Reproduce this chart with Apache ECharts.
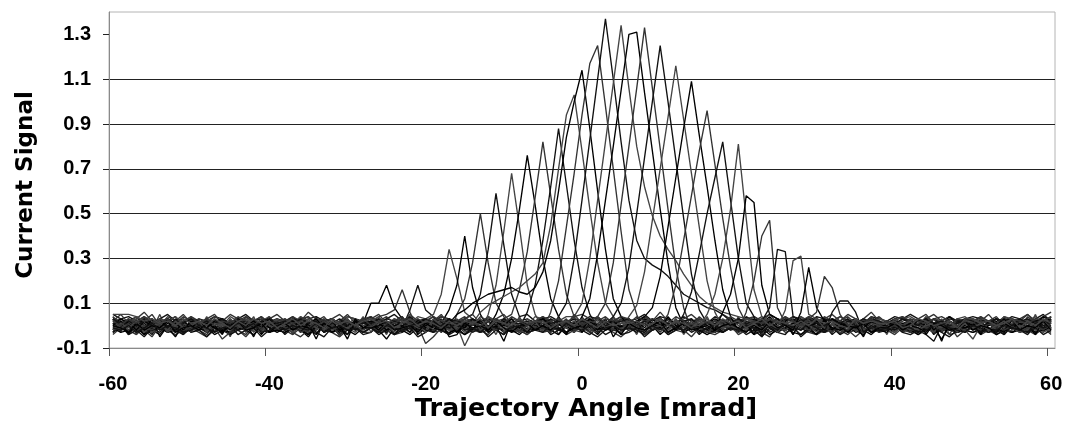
<!DOCTYPE html>
<html>
<head>
<meta charset="utf-8">
<script src="https://cdn.jsdelivr.net/npm/echarts@6.0.0/dist/echarts.min.js"></script>
<style>
  html, body { margin: 0; padding: 0; background: #fff; }
  #chart { width: 1066px; height: 422px; }
</style>
</head>
<body>
<div id="chart"></div>
<script>
// Detector channel currents versus beam trajectory angle.
// Each channel is sampled every 1 mrad, starting at -59.5 mrad (121 samples).
const ANGLE_START = -59.5;
const ANGLE_STEP = 1;
const SAMPLE_COUNT = 121;

// Tick labels of both axes
const xTicks = [-60, -40, -20, 0, 20, 40, 60];
const yTicks = [-0.1, 0.1, 0.3, 0.5, 0.7, 0.9, 1.1, 1.3];
const xTitle = 'Trajectory Angle [mrad]';
const yTitle = 'Current Signal';

// Baseline readings of every channel, in units of 0.01
const base01 = [1,-2,2,0,-3,1,3,-1,0,2,-2, 1,3,-1,-2,0,2,-1,1,-3,0,2, -1,2,0,-2,3,1,-1,-3,2,0,1, -2,1,3,0,-1,2,-2,1,0,-3,2, 0,-1,2,1,-2,3,0,-1,1,-2,2, 1,-3,0,2,-1,1,3,-2,0,1,-1, 2,0,-2,1,-1,3,0,-2,2,-1,1, -1,2,1,-3,0,2,-1,1,3,-2,0, 1,-1,2,0,-2,1,3,-1,0,2,-3, 0,2,-1,1,-2,0,3,1,-1,2,0, -2,1,0,3,-1,2,-2,0,1,-1,2];
const base02 = [3,0,2,4,1,-1,2,3,0,1,4, 2,-1,1,3,0,2,4,1,-2,2,3, 0,3,1,-1,2,4,0,1,3,-1,2, 1,4,2,0,3,1,-2,2,4,0,1, 3,-1,2,1,4,0,2,3,-1,1,2, 4,1,0,2,3,-1,2,4,1,0,3, 1,2,4,0,1,3,-1,2,0,4,1, 2,0,3,1,-1,2,4,0,3,1,2, 0,3,1,4,2,-1,1,3,0,2,4, 1,-1,2,3,0,4,1,2,-1,3,1, 2,4,0,1,3,2,-1,4,1,2,3];
const base03 = [-2,0,-3,-1,1,-2,-4,0,-1,-3,1, -1,-3,0,-2,-4,1,-1,-2,0,-3,-1, 0,-2,-1,-4,-1,0,-3,-2,1,-1,-4, -3,0,-2,1,-1,-3,0,-2,-4,-1,0, -1,-4,-2,0,-3,-1,1,-2,-1,-3,0, -2,1,-1,-3,0,-2,-4,-1,0,-2,-3, 0,-2,-4,-1,1,-3,-1,-2,0,-4,-1, -3,-1,0,-2,-1,-4,-2,0,-3,-1,1, -1,-3,-2,0,-4,-1,-2,1,-1,-3,-2, -2,0,-1,-3,-2,1,-4,-1,-2,0,-3, 0,-2,-3,-1,-4,0,-2,-1,-3,1,-2];
const base04 = [4,-3,3,-4,2,-2,5,-3,1,-4,3, -2,4,-3,2,-5,3,-1,4,-3,2,-2, 3,-4,1,-2,4,-3,2,-5,3,-1,4, -3,2,-4,3,-1,4,-2,3,-4,2,-3, 4,-1,3,-3,2,-4,3,-2,4,-3,1, -2,3,-4,2,-3,4,-1,3,-2,4,-3, 2,-4,3,-1,4,-2,3,-4,1,-3,4, -3,1,-2,4,-3,2,-4,3,-2,1,-4, 3,-2,4,-3,1,-4,2,-1,3,-3,2, -4,3,-1,2,-3,4,-2,3,-4,2,-1, 3,-3,2,-4,4,-1,3,-2,5,-3,4];
const base05 = [1,0,1,2,0,1,-1,1,2,0,1, 0,2,1,-1,1,0,2,1,0,-1,1, 2,0,1,1,-1,2,0,1,-1,1,2, 0,1,-1,2,1,0,1,2,0,1,-1, 1,2,0,1,-1,1,2,0,1,0,2, -1,1,0,2,1,-1,1,0,2,1,0, 1,0,2,1,0,1,-1,2,1,0,1, 2,1,0,-1,1,2,0,1,-1,1,0, 0,2,1,0,2,1,0,-1,1,2,1, 1,-1,1,2,0,1,1,0,2,0,-1, 0,1,2,0,1,-1,2,1,0,1,2];
const base06 = [-3,-1,-2,-4,-1,-3,0,-2,-4,-2,-1, -3,-5,-2,-1,-3,-2,-4,0,-2,-3,-1, -2,-4,-1,-3,-2,0,-3,-5,-2,-1,-3, -1,-3,-2,-4,-3,-1,-2,0,-3,-2,-4, -2,0,-3,-1,-4,-2,-1,-3,-2,-4,-1, -3,-2,-1,-4,-2,-3,0,-2,-1,-3,-5, -2,-1,-3,-2,0,-4,-2,-3,-1,-2,-3, -4,-2,-1,-3,-2,-1,-4,-2,0,-3,-2, -1,-3,-4,-2,-1,-3,-2,-5,-2,-1,-3, -2,-4,-1,-2,-3,0,-2,-1,-4,-3,-2, -3,-1,-2,-4,-2,-3,-1,-2,-3,-1,-4];
const base07 = [5,3,4,2,4,1,3,5,2,3,1, 3,2,4,3,1,3,5,2,4,1,3, 2,4,1,3,4,2,3,1,4,3,2, 4,1,3,5,2,4,1,3,2,4,3, 1,3,2,4,3,1,4,2,3,5,2, 3,4,2,1,3,2,4,3,1,2,4, 2,3,5,2,4,3,1,4,2,3,1, 4,2,3,1,4,2,3,5,3,2,4, 3,1,4,3,2,4,2,3,1,4,3, 2,4,3,5,3,1,3,2,4,2,3, 4,3,1,3,2,4,3,1,3,5,2];
const base08 = [-1,2,-2,1,-1,3,-2,2,-1,1,-3, 2,-1,3,-2,1,-1,2,-3,1,0,2, -2,1,-1,3,-2,2,0,-2,3,-1,1, 1,-3,2,-1,2,-2,1,-1,3,-2,0, 2,-2,1,-3,3,-1,2,-2,1,-1,3, -1,2,-2,1,0,-3,2,-1,2,-2,1, 3,-1,1,-2,2,-1,3,-2,0,2,-1, -2,2,-1,3,-3,1,-1,2,-2,1,-2, 1,-1,3,-2,1,-2,2,-1,3,-3,2, -1,3,-2,1,-1,2,-3,2,-1,1,-2, 2,-2,1,-1,3,-2,1,-3,2,-1,3];
const base09 = [0,-2,1,-1,-4,0,2,-1,-5,1,0, -2,1,-3,0,2,-1,-2,1,-4,0,1, -1,2,-2,-5,0,1,-3,-1,2,-2,0, 1,-1,-3,0,-2,2,-4,-1,1,-2,-1, -3,0,1,-2,-1,-6,0,-2,1,-1,-3, 0,-2,2,-1,-3,1,-1,-4,0,2,-2, -1,1,-2,0,-4,-1,2,-3,-1,0,-2, 1,-3,0,-1,2,-2,-5,1,-1,-2,0, -2,0,-1,-3,1,-1,0,-2,-4,1,-1, 0,-2,1,-1,-3,2,-1,-6,0,-2,1, -1,-3,0,2,-2,-1,1,-3,0,-2,-1];
const base10 = [2,5,1,3,6,2,0,4,2,5,1, 3,1,4,2,5,3,1,2,4,1,3, 1,4,2,6,3,1,3,5,2,0,3, 4,2,0,3,1,5,2,3,1,4,2, 2,3,5,1,4,2,3,0,4,2,5, 1,4,2,3,1,5,3,2,4,1,3, 3,1,4,2,6,2,1,3,5,2,0, 2,5,3,1,3,4,2,5,1,3,2, 4,2,1,3,5,2,4,1,3,6,2, 1,3,4,2,1,3,5,2,4,1,3, 3,2,5,1,4,2,3,5,2,4,6];
const base11 = [-2,1,-3,0,-1,-4,1,-2,0,-3,-1, 0,-3,-1,1,-4,-2,0,-1,-3,1,-2, -3,-1,0,-2,1,-3,-1,-4,0,-2,-1, -1,-4,-2,0,-3,1,-2,-1,-3,0,-4, 1,-2,-1,-3,0,-2,-4,0,-1,-3,-2, -2,0,-3,-1,-2,0,-3,-1,-4,-2,0, -1,-3,1,-2,-1,-4,-2,0,-3,-1,-2, -3,0,-2,-1,-4,-2,1,-3,-1,-2,0, 0,-2,-4,-1,-2,0,-3,-2,1,-3,-1, -2,-1,0,-3,-2,-4,-7,0,-2,-3,1, -1,-3,-2,0,-1,-3,-2,-4,0,-2,-1];
const base12 = [0,2,-1,1,3,-1,0,2,-2,1,0, 1,-1,2,0,-2,1,3,0,-1,2,-1, 2,0,-2,1,-1,2,0,-1,1,3,0, -1,1,0,2,-1,0,2,-2,1,0,2, 0,-2,1,2,0,-1,1,2,-1,0,1, 2,1,-1,0,2,-2,0,1,3,-1,0, -1,0,2,-1,1,0,-2,1,0,2,-1, 1,2,0,-2,0,1,2,-1,1,0,-2, 0,-1,1,2,-1,2,0,1,-2,1,2, 2,0,-1,1,0,-2,1,2,0,-1,1, -1,1,2,0,-1,1,0,2,1,-1,0];
const base13 = [3,-1,2,0,3,1,-1,2,4,0,1, -1,3,1,2,-1,3,0,2,1,4,0, 2,0,4,1,-1,2,3,0,2,-1,3, 1,3,0,2,4,-1,1,3,0,2,1, 4,0,2,-1,3,1,2,0,3,1,-1, 2,3,0,4,1,-1,2,3,1,0,2, 0,2,3,1,-1,4,0,2,3,-1,1, 3,1,-1,2,0,3,1,4,0,2,3, 1,4,2,0,3,1,-1,2,1,3,0, 2,0,3,1,2,-1,3,0,4,1,2, 0,3,1,-1,2,3,0,2,1,4,2];
const base14 = [-4,-1,-3,1,-2,-5,0,-3,-1,-4,0, -2,-4,0,-3,-1,-2,-5,-1,-3,0,-2, -1,-3,-5,-2,0,-3,-1,-4,-2,1,-3, -3,0,-2,-4,-1,-3,0,-8,-5,-1,-2, 0,-3,-1,-2,-4,0,-3,-1,-2,-4,-1, -2,-5,-1,0,-3,-2,-4,1,-2,-3,0, -3,-1,-4,-2,0,-3,-1,-2,-5,-1,-3, -1,-3,0,-4,-2,-1,-3,-5,0,-2,-1, -4,-2,-1,-3,1,-2,-4,-1,-3,0,-2, -2,0,-3,-1,-4,-2,-1,-3,0,-5,-2, -1,-4,-2,-3,0,-1,-3,-2,-4,-1,-3];
const base15 = [1,-1,0,2,-2,0,1,-1,3,0,-2, 0,2,-1,-2,1,3,-1,0,-2,1,2, -2,0,1,-1,2,-3,0,2,-1,0,1, 2,-1,-2,1,0,2,-2,-1,1,3,-1, -1,1,2,-2,0,-1,3,1,-2,0,2, 0,-2,1,3,-1,0,-2,2,0,-1,1, 2,1,-1,0,-3,1,2,-1,0,2,-2, -1,0,2,-2,1,-1,0,3,-2,1,0, 1,-2,0,1,2,-1,-3,0,2,-1,1, -2,1,-1,0,3,-2,1,-1,0,2,-1, 0,2,-2,1,-1,0,2,-2,1,-1,3];
const base16 = [2,3,1,4,2,0,3,2,4,1,3, 1,3,2,0,4,2,3,1,2,4,0, 3,1,4,2,1,3,0,2,4,3,1, 2,4,0,3,2,1,4,3,1,2,3, 0,2,3,1,4,2,1,3,2,0,4, 3,1,2,4,0,3,2,1,4,2,1, 2,4,1,3,2,0,3,4,1,3,2, 1,2,4,0,3,2,1,3,2,4,1, 4,1,3,2,0,4,2,1,3,2,3, 2,0,3,4,2,1,3,2,0,3,4, 1,3,2,0,4,3,1,2,4,1,2];
const base17 = [-1,-3,-2,0,-4,-2,-1,-3,-2,0,-3, -2,-1,-4,-2,-3,0,-2,-4,-1,-3,-2, -3,-1,-2,-4,0,-2,-3,-1,-2,-4,-1, 0,-2,-6,-1,-2,-4,-1,-3,0,-2,-3, -2,-4,-1,-3,-2,0,-3,-2,-4,-1,-2, -1,-2,-4,0,-3,-1,-2,-4,-2,-3,0, -3,0,-2,-1,-4,-2,-3,0,-1,-2,-4, -2,-3,-1,-2,0,-3,-1,-4,-2,-1,-3, -4,-1,-2,-3,-1,-2,0,-3,-2,-4,-1, -1,-3,0,-2,-4,-1,-3,-2,-1,-3,-2, -3,-2,-1,-4,-2,-3,-1,0,-3,-2,-1];
const base18 = [3,-2,1,-3,2,0,-2,3,-1,2,-3, 1,-2,3,-1,0,2,-3,1,-2,3,0, -2,2,0,-3,3,-1,1,-2,2,-1,3, 0,-3,2,1,-2,3,-1,0,2,-3,1, -1,3,-2,2,0,-2,3,-1,1,-3,2, 2,-1,0,3,-2,1,-3,2,0,-1,3, -3,1,2,-1,3,-2,0,2,-2,1,-1, 1,-2,3,0,-1,2,-3,1,3,-2,0, -2,3,-1,1,-3,2,0,-2,1,3,-1, 2,0,-3,2,1,-1,3,-2,0,2,-2, -1,2,1,-2,3,0,-1,3,-2,1,2];
const base19 = [1,2,0,1,3,1,2,0,2,1,3, 2,0,1,3,1,2,0,2,3,1,0, 1,3,2,0,1,2,3,1,0,2,1, 0,1,3,2,0,1,2,3,1,0,2, 2,1,0,2,3,1,0,1,2,3,1, 3,1,2,0,1,3,2,0,1,2,0, 1,2,3,1,0,2,1,3,2,0,1, 0,2,1,3,2,1,0,2,1,3,2, 2,0,1,2,3,0,2,1,3,1,0, 1,3,0,1,2,2,1,0,3,2,1, 0,1,2,3,1,0,2,3,1,2,1];
const base20 = [-1,0,-2,-1,0,-3,-1,-2,0,-1,-2, 0,-2,-1,-3,-1,0,-2,-1,-3,0,-1, -2,-1,0,-2,-3,-1,0,-2,-1,-3,0, -1,-3,-1,0,-2,-1,-3,0,-2,-1,-2, 0,-9,-2,-3,0,-2,-1,-1,-3,-2,0, -2,0,-1,-1,-3,0,-2,-3,-1,0,-2, -1,-2,-3,0,-1,-2,0,-1,-2,-3,-1, -3,-1,0,-2,-1,-3,-2,0,-1,-2,0, 0,-2,-1,-3,-2,0,-1,-2,-3,-1,-1, -2,-3,0,-1,-2,-1,-3,0,-2,-1,-2, -6,0,-2,-1,-3,-2,0,-1,-2,-3,-1];
const base21 = [-3,2,-4,1,-2,3,-5,0,-3,2,-1, 2,-3,0,-4,3,-2,1,-5,2,-1,-3, -1,3,-3,1,-6,2,-2,0,-4,3,-1, 1,-2,2,-4,0,-3,3,-1,-2,2,-5, -4,1,-2,3,-3,0,-7,2,-1,-3,2, 3,-2,-1,-4,2,-3,1,-2,3,-5,0, -2,2,-4,1,-3,3,-1,-5,2,-2,1, 0,-3,2,-2,1,-4,3,-1,-3,2,-4, 2,-1,-4,3,-2,1,-3,0,-5,2,-2, -3,2,0,-2,3,-4,1,-7,2,-1,-3, 1,-4,2,-1,-3,3,-2,0,-4,2,-1];
const base22 = [4,1,3,-1,2,5,0,3,1,4,2, 0,3,5,1,2,-1,4,2,0,3,5, 2,0,3,4,1,3,-1,2,5,1,3, 3,5,1,2,4,0,3,1,2,5,0, 1,3,0,4,2,3,5,1,3,0,2, 4,2,3,0,5,1,2,4,1,3,2, 1,4,2,3,0,2,4,1,5,2,0, 3,0,2,5,1,4,2,0,3,1,4, 2,4,1,0,3,2,5,3,1,4,1, 0,2,4,1,3,5,1,2,0,3,2, 3,1,2,4,0,3,2,5,1,2,4];
const base23 = [-3,0,-4,-2,-5,-1,-3,0,-2,-4,-1, -2,-5,-1,-3,0,-4,-2,-1,-5,-2,0, -4,-1,-2,0,-3,-5,-1,-2,-4,0,-3, -1,-3,0,-4,-2,-1,-5,-3,0,-2,-4, -2,0,-3,-1,-5,-2,-4,0,-1,-3,-2, 0,-4,-2,-3,-1,0,-3,-5,-2,-1,-4, -3,-1,-5,-2,0,-3,-1,-4,-2,0,-3, -1,-4,-2,0,-3,-2,-5,-1,-3,-4,0, -5,-2,0,-3,-1,-4,-2,0,-3,-1,-2, -2,0,-3,-4,-2,-1,0,-3,-5,-2,-1, 0,-3,-1,-2,-4,0,-2,-3,-1,-4,-2];
const base24 = [2,-1,0,3,-2,1,2,-3,0,1,-1, -2,2,1,-1,3,0,-2,2,-1,1,3, 0,-3,2,1,-1,2,-2,0,3,-1,1, 3,0,-1,2,-2,1,0,-3,2,1,-2, -1,2,3,-2,0,1,-1,2,-2,3,0, 1,-2,0,2,-1,3,-2,1,0,-1,2, -2,1,2,-1,0,-2,3,-1,2,0,-3, 2,0,-2,3,1,-1,0,2,-3,1,2, 0,1,-3,1,2,0,-1,3,-2,0,1, -1,3,0,-2,1,2,-2,0,1,-3,2, 2,-2,1,0,-1,3,0,-2,2,1,-1];
const base25 = [0,3,1,-2,2,0,-1,3,1,-2,2, 1,-1,2,3,-2,1,0,2,-1,3,0, -1,2,0,1,3,-1,2,-2,0,2,1, 2,1,-2,0,1,3,-1,0,2,-1,3, 0,-1,3,1,-2,2,0,3,-1,1,-2, 3,0,1,-1,2,-2,3,0,1,2,-1, 1,2,-1,3,0,1,-2,2,0,-1,2, -2,1,3,0,2,-1,1,-2,3,0,1, 2,0,1,-2,3,1,0,2,-1,2,0, 0,2,-1,1,0,3,-2,1,2,0,-1, 1,-2,2,0,3,-1,1,0,2,3,1];
const base26 = [-2,-1,1,-3,0,-2,1,-1,-3,0,-2, 1,-2,-1,-6,-3,1,-2,0,-1,-3,1, -1,0,-3,-1,1,-2,0,-4,-1,0,-2, 0,-3,1,-2,-1,0,-3,1,-2,-1,0, -2,1,-1,-3,0,-2,1,-1,-3,0,-1, -1,-3,0,1,-2,-1,-3,0,1,-2,-1, 0,-1,-2,0,-3,1,-1,-2,0,-1,-3, -3,0,1,-2,-1,-3,0,-1,-2,1,-2, 1,-2,0,-1,-3,0,-2,1,-1,-2,0, -1,0,-2,-3,1,-1,0,-2,-1,0,-3, 0,-2,1,-1,-2,0,-3,-1,0,-2,1];
const base27 = [3,1,2,0,2,3,1,-1,2,1,3, 0,2,1,3,0,1,2,-1,2,3,1, 2,0,3,1,2,-1,1,3,0,2,1, 1,3,0,2,1,3,0,1,2,0,3, 2,1,3,-1,2,0,3,1,1,2,0, 0,3,1,2,0,2,1,3,0,1,2, 3,0,2,1,3,1,-1,2,3,0,1, 1,2,0,3,1,0,2,1,3,2,0, 2,3,1,0,2,1,3,0,1,3,2, 0,1,3,2,0,3,1,2,0,1,3, 2,0,1,3,2,0,3,1,2,0,1];
const base28 = [-2,1,-1,2,-3,0,1,-2,2,-1,0, 2,-3,1,0,-1,2,-2,1,-3,2,-1, 0,1,-2,3,-1,-2,2,0,-1,1,-3, -1,2,0,-3,2,1,-1,-2,3,0,-1, 1,-2,2,0,-1,3,-3,1,0,-2,2, -3,0,1,-1,2,-2,0,3,-1,1,-2, 2,-1,-2,1,0,-3,2,-1,1,0,2, 0,2,-1,-2,3,1,-2,0,-1,2,-3, -2,0,3,-1,1,-2,0,2,-3,1,0, 1,-3,0,2,-2,0,1,-1,2,-2,1, -1,1,-2,0,2,-1,-3,1,0,2,-1];
const base29 = [0,-1,-3,1,-2,0,-1,2,-3,-1,0, -2,1,-1,-3,0,2,-2,-1,1,-3,0, 1,-2,0,-1,-4,1,-1,0,-6,2,-1, -1,0,2,-2,-1,0,-3,1,-1,-2,1, -3,1,-1,0,-2,2,-1,-3,0,1,-2, 0,-2,1,-3,-1,0,2,-1,-2,0,-4, 1,-1,-2,0,2,-3,-1,1,-2,-1,0, -2,0,1,-1,-3,0,-2,2,-1,0,-2, 0,-3,-1,2,-1,-2,0,-1,1,-3,-1, -1,1,-2,0,-1,-3,1,0,-2,-1,2, -2,0,-1,-3,1,-1,-2,0,-1,2,-2];
const base30 = [2,0,3,1,4,2,1,3,0,2,4, 1,3,0,2,1,4,2,0,3,1,2, 3,1,2,4,0,2,3,1,2,0,3, 0,2,4,1,3,1,0,2,4,2,1, 2,4,1,0,2,3,1,4,2,0,2, 1,2,3,1,4,0,2,1,3,2,4, 3,0,1,3,2,1,4,2,0,3,1, 2,1,4,2,0,2,1,3,1,4,2, 0,3,2,1,3,4,0,2,1,3,0, 2,1,0,3,2,1,3,4,2,0,2, 1,4,2,0,1,3,2,1,3,2,4];
const base31 = [-1,-2,0,-3,-1,1,-2,0,-1,-3,-2, 0,-1,-3,-1,0,-2,-1,1,-3,-2,0, -2,0,-1,-2,1,-3,-1,0,-2,-1,-3, -1,-3,0,-1,-2,0,1,-2,-3,0,-1, 1,-2,-1,-3,0,-1,-2,-1,0,-3,-2, -3,0,-2,1,-1,-2,0,-3,-1,0,-2, -1,-2,-3,0,-2,1,-1,-2,0,-3,-1, 0,-3,-1,-2,0,-1,-3,0,-2,1,-1, -2,1,-1,-3,-1,0,-2,-1,-3,0,-2, -1,-2,0,-1,-3,-2,0,1,-1,-2,-3, 0,-1,-3,-2,0,-1,-2,-3,1,-1,0];
const base32 = [5,5,5,4,2,3,1,2,0,3,1, 2,0,3,1,-1,2,0,3,1,2,-1, 1,3,0,2,1,-1,3,1,2,0,2, 3,1,2,-1,1,3,0,2,1,-1,2, 0,2,1,3,-1,2,1,0,3,1,2, 2,-1,1,2,0,3,1,-1,2,0,1, 1,2,0,1,3,0,2,1,-1,2,3, 0,3,1,2,-1,1,3,0,2,1,0, 2,0,3,1,2,0,-1,3,1,2,1, 1,2,-1,0,3,2,0,1,2,-1,3, 3,1,2,0,1,3,-1,2,0,3,1];

// Response of each channel around its peak, in units of 0.01,
// starting at the sample index given in peakStart
const peakStart = [33, 35, 38, 41, 43, 44, 46, 48, 49, 51, 53, 47, 44, 56, 57, 59,
                   60, 62, 64, 66, 68, 71, 73, 76, 78, 81, 84, 86, 88, 90, 92, null];
const peak01 = [10, 10, 18, 8, 3];
const peak02 = [5, 7, 16, 6];
const peak03 = [7, 18, 7, 4];
const peak04 = [5, 14, 34, 21, 6];
const peak05 = [7, 18, 40, 17, 5];
const peak06 = [5, 12, 28, 50, 28, 10, 4];
const peak07 = [5, 14, 34, 59, 36, 14, 4];
const peak08 = [5, 18, 42, 68, 44, 18, 5];
const peak09 = [5, 14, 30, 52, 76, 54, 30, 12, 4];
const peak10 = [5, 16, 33, 57, 82, 58, 34, 14, 4];
const peak11 = [6, 18, 38, 62, 88, 63, 38, 17, 5];
const peak12 = [6, 9, 11, 13, 15, 17, 20, 23, 28, 45, 70, 94, 103, 78, 52, 28, 10, 4];
const peak13 = [5, 7, 10, 12, 14, 15, 16, 17, 15, 14, 17, 24, 38, 60, 84, 100, 114, 88, 60, 34, 12, 4];
const peak14 = [6, 20, 44, 68, 94, 117, 125, 98, 70, 42, 16, 5];
const peak15 = [4, 10, 30, 56, 83, 110, 137, 110, 82, 56, 38, 30, 27, 25, 22, 18, 14, 12, 10, 8, 7, 5];
const peak16 = [4, 10, 30, 56, 82, 108, 134, 106, 80, 62, 49, 40, 34, 29, 23, 18, 13, 10, 8, 6, 5, 4];
const peak17 = [4, 12, 32, 56, 80, 105, 130, 131, 104, 78, 52, 28, 8];
const peak18 = [4, 10, 28, 54, 80, 106, 133, 106, 79, 52, 26, 8];
const peak19 = [4, 10, 26, 50, 75, 100, 125, 100, 74, 48, 23, 7];
const peak20 = [4, 9, 24, 47, 70, 93, 116, 92, 68, 44, 20, 6];
const peak21 = [4, 8, 22, 44, 66, 88, 109, 85, 62, 38, 16, 4];
const peak22 = [5, 18, 38, 58, 78, 96, 72, 48, 26, 8];
const peak23 = [5, 15, 32, 50, 66, 82, 56, 30, 10, 4];
const peak24 = [5, 14, 30, 52, 81, 48, 16, 4];
const peak25 = [6, 14, 30, 58, 55, 18, 5];
const peak26 = [6, 20, 40, 47, 8];
const peak27 = [8, 34, 33, 4];
const peak28 = [7, 29, 31, 5];
const peak29 = [6, 26, 8];
const peak30 = [6, 22, 17, 5];
const peak31 = [6, 11, 11, 6];
const peak32 = [];

const baseRows = [base01, base02, base03, base04, base05, base06, base07, base08,
                  base09, base10, base11, base12, base13, base14, base15, base16,
                  base17, base18, base19, base20, base21, base22, base23, base24,
                  base25, base26, base27, base28, base29, base30, base31, base32];
const peakRows = [peak01, peak02, peak03, peak04, peak05, peak06, peak07, peak08,
                  peak09, peak10, peak11, peak12, peak13, peak14, peak15, peak16,
                  peak17, peak18, peak19, peak20, peak21, peak22, peak23, peak24,
                  peak25, peak26, peak27, peak28, peak29, peak30, peak31, peak32];

const lineColors = ['#000000', '#333333', '#111111', '#444444'];

const series = baseRows.map((row, k) => {
  if (row.length !== SAMPLE_COUNT) console.error('channel ' + (k + 1) + ' has ' + row.length + ' samples');
  const values = row.slice();
  if (peakStart[k] !== null) {
    peakRows[k].forEach((v, j) => { values[peakStart[k] + j] = v; });
  }
  return {
    type: 'line',
    name: 'ch' + (k + 1),
    data: values.map((v, i) => [ANGLE_START + i * ANGLE_STEP, v / 100]),
    symbol: 'none',
    silent: true,
    animation: false,
    lineStyle: { width: 1.35, color: lineColors[k % lineColors.length] }
  };
});

const tickFont = { fontFamily: '"Liberation Sans", Arial, sans-serif', fontWeight: 'bold', fontSize: 20, color: '#000' };
const titleFont = { fontFamily: '"DejaVu Sans", Verdana, sans-serif', fontWeight: 'bold', color: '#000' };

const chart = echarts.init(document.getElementById('chart'), null, { renderer: 'canvas' });
chart.setOption({
  backgroundColor: '#fff',
  animation: false,
  grid: {
    left: 109, right: 11, top: 12, bottom: 74,
    outerBoundsMode: 'none', containLabel: false,
    show: true, borderColor: '#b4b4b4', borderWidth: 1
  },
  // x-axis title, placed under the tick labels
  graphic: [{
    type: 'text',
    x: 586,
    y: 409,
    silent: true,
    style: {
      text: xTitle,
      textAlign: 'center',
      textVerticalAlign: 'middle',
      fontFamily: titleFont.fontFamily,
      fontWeight: 'bold',
      fontSize: 25.5,
      fill: '#000'
    }
  }],
  xAxis: {
    type: 'value',
    min: -60,
    max: 61,
    interval: 20,
    axisLine: { show: true, onZero: false, lineStyle: { color: '#8a8a8a', width: 1 } },
    axisTick: { show: true, length: 8, customValues: xTicks, lineStyle: { color: '#555' } },
    axisLabel: Object.assign({ margin: 26, customValues: xTicks, padding: [0, 0, 0, 8] }, tickFont),
    splitLine: { show: false }
  },
  yAxis: {
    type: 'value',
    min: -0.1,
    max: 1.4,
    interval: 0.2,
    name: yTitle,
    nameLocation: 'middle',
    nameRotate: 90,
    nameGap: 71,
    nameTextStyle: Object.assign({ fontSize: 23, padding: [0, 10, 0, 0] }, titleFont),
    axisLine: { show: true, onZero: false, lineStyle: { color: '#8a8a8a', width: 1 } },
    axisTick: { show: true, length: 6, customValues: yTicks, lineStyle: { color: '#222' } },
    axisLabel: Object.assign({ margin: 18, customValues: yTicks, formatter: v => v.toFixed(1) }, tickFont),
    splitLine: { show: true, showMinLine: false, showMaxLine: false, lineStyle: { color: '#222', width: 1 } }
  },
  series: series
});
</script>
</body>
</html>
